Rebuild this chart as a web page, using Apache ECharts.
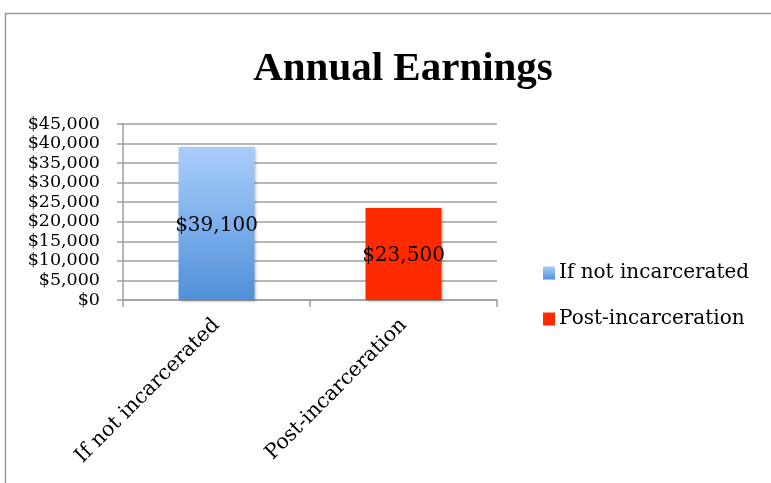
<!DOCTYPE html>
<html>
<head>
<meta charset="utf-8">
<script src="https://cdn.jsdelivr.net/npm/echarts@6/dist/echarts.min.js"></script>
<style>
  html, body { margin: 0; padding: 0; background: #fff; }
  #chart { width: 771px; height: 483px; }
</style>
</head>
<body>
<div id="chart"></div>
<script>
const categories = ["If not incarcerated", "Post-incarceration"];
const notIncarcerated = [39100, "-"];
const postIncarceration = ["-", 23500];
const yTicks = [0, 5000, 10000, 15000, 20000, 25000, 30000, 35000, 40000, 45000];

const serif = "'DejaVu Serif', serif";
const grey = "#9f9f9f";

function money(v) {
  return "$" + Number(v).toLocaleString("en-US");
}

const chart = echarts.init(document.getElementById("chart"));
chart.setOption({
  animation: false,
  graphic: [{
    type: "rect",
    shape: { x: 5.5, y: 13.5, width: 800, height: 500 },
    style: { fill: "none", stroke: "#9a9a9a", lineWidth: 1.5 },
    silent: true
  }],
  title: {
    text: "Annual Earnings",
    left: 398,
    textAlign: "center",
    top: 44,
    textStyle: { fontFamily: "'Liberation Serif', serif", fontWeight: "bold", fontSize: 41, color: "#000" }
  },
  legend: {
    orient: "vertical",
    left: 538,
    top: 258,
    itemGap: 26,
    itemWidth: 12,
    itemHeight: 13,
    icon: "rect",
    textStyle: { fontFamily: serif, fontSize: 20, color: "#000", padding: [0, 0, 0, -1] },
    data: categories
  },
  grid: { left: 123, right: 274, top: 124, bottom: 183 },
  xAxis: {
    type: "category",
    data: categories,
    axisLine: { lineStyle: { color: grey, width: 1.5 } },
    axisTick: { show: true, length: 7, lineStyle: { color: grey, width: 1.5 } },
    axisLabel: { rotate: 45, margin: 22, fontFamily: serif, fontSize: 20.5, color: "#000", interval: 0 }
  },
  yAxis: {
    type: "value",
    min: yTicks[0],
    max: yTicks[yTicks.length - 1],
    interval: yTicks[1] - yTicks[0],
    axisLine: { show: true, lineStyle: { color: grey, width: 1.5 } },
    axisTick: { show: true, length: 6, lineStyle: { color: grey, width: 1.5 } },
    splitLine: { lineStyle: { color: grey, width: 1.5 } },
    axisLabel: { margin: 23, fontFamily: serif, fontSize: 17.5, color: "#000", formatter: money }
  },
  series: [
    {
      name: categories[0],
      type: "bar",
      stack: "one",
      barWidth: 76,
      data: notIncarcerated,
      itemStyle: {
        color: new echarts.graphic.LinearGradient(0, 0, 0, 1, [
          { offset: 0, color: "#abcefc" },
          { offset: 1, color: "#4f90d9" }
        ]),
        shadowBlur: 3,
        shadowColor: "rgba(0,0,0,0.3)",
        shadowOffsetX: 1,
        shadowOffsetY: 1
      },
      label: { show: true, position: "inside", offset: [0, 2], fontFamily: serif, fontSize: 20, color: "#000", formatter: p => money(p.value) }
    },
    {
      name: categories[1],
      type: "bar",
      stack: "one",
      barWidth: 76,
      data: postIncarceration,
      itemStyle: {
        color: "#ff2a00",
        shadowBlur: 3,
        shadowColor: "rgba(0,0,0,0.3)",
        shadowOffsetX: 1,
        shadowOffsetY: 1
      },
      label: { show: true, position: "inside", offset: [0, 2], fontFamily: serif, fontSize: 20, color: "#000", formatter: p => money(p.value) }
    }
  ]
});
</script>
</body>
</html>
